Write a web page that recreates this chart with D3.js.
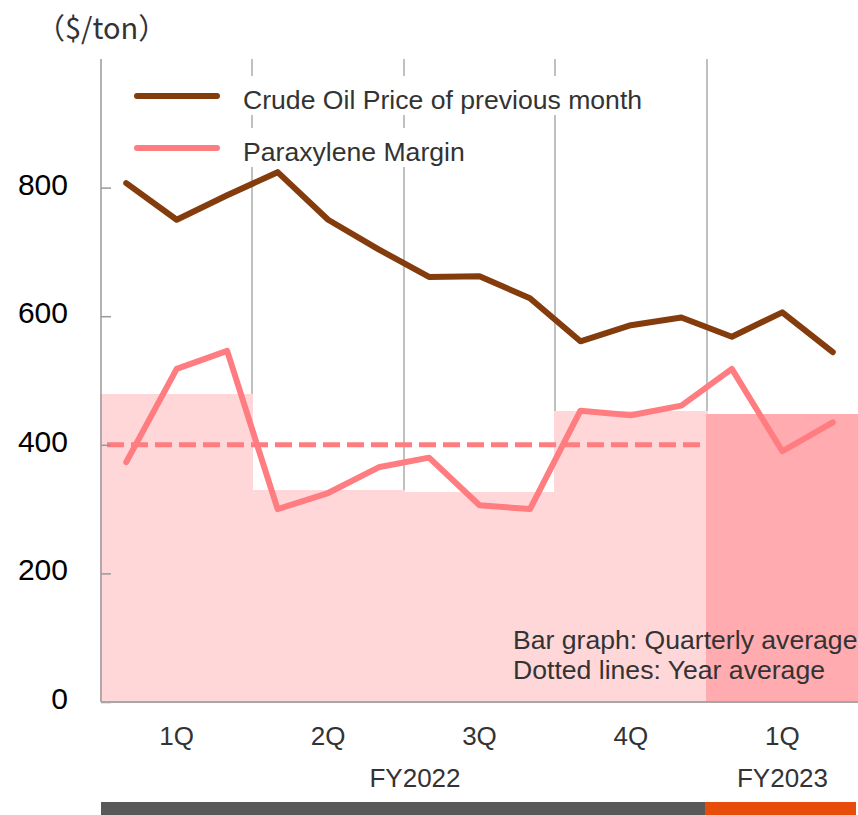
<!DOCTYPE html>
<html>
<head>
<meta charset="utf-8">
<script src="https://cdn.jsdelivr.net/npm/d3@7"></script>
<style>
  body { margin: 0; background: #fff; }
  text { font-family: "Liberation Sans", Arial, sans-serif; }
</style>
</head>
<body>
<svg id="chart" width="858" height="815"></svg>
<script>
// Data
const months = d3.range(15);
const crudeOil = [807, 750, 788, 824, 750, 704, 661, 662, 628, 561, 586, 598, 568, 606, 544];
const pxMargin = [373, 518, 546, 300, 325, 365, 380, 306, 300, 453, 446, 461, 518, 390, 435];
const quarters = ["1Q", "2Q", "3Q", "4Q", "1Q"];
const quarterAvg = [479, 329, 327, 452, 448];
const fiscalYears = ["FY2022", "FY2023"];
const fyQuarters = [[0, 3], [4, 4]];
const yearAvg = [400];
const yTicks = [0, 200, 400, 600, 800];

const svg = d3.select("#chart");

// Scales
const x = d3.scaleBand().domain(months).range([101, 858]);
const y = d3.scaleLinear().domain([0, 1000]).range([702, 59]);
const cx = i => x(i) + x.bandwidth() / 2;
const qLeft = q => Math.round(x(q * 3));
const qRight = q => Math.round(x(q * 3 + 2) + x.bandwidth());

// Unit label
svg.append("text")
    .attr("x", 36)
    .attr("y", 39)
    .attr("font-size", 29)
    .attr("fill", "#333")
    .style("font-family", "'Noto Sans CJK JP', sans-serif")
    .text("（$/ton）");

// Gridlines at quarter boundaries
svg.selectAll(".grid")
    .data([1, 2, 3, 4])
    .enter()
    .append("line")
    .attr("x1", q => qLeft(q))
    .attr("x2", q => qLeft(q))
    .attr("y1", y(1000))
    .attr("y2", y(0))
    .attr("stroke", "#c0c0c0")
    .attr("stroke-width", 2);

// Quarterly average bars
svg.selectAll(".bar")
    .data(quarterAvg)
    .enter()
    .append("rect")
    .attr("x", (d, i) => qLeft(i) - 1)
    .attr("y", d => y(d))
    .attr("width", (d, i) => qRight(i) - qLeft(i) + 2)
    .attr("height", d => y(0) - y(d))
    .attr("shape-rendering", "crispEdges")
    .attr("fill", (d, i) => i < 4 ? "#ffd7d9" : "#ffabaf");

// Year average dashed line
svg.append("line")
    .attr("x1", qLeft(0))
    .attr("x2", qRight(3))
    .attr("y1", y(yearAvg[0]))
    .attr("y2", y(yearAvg[0]))
    .attr("stroke", "#ff7c80")
    .attr("stroke-width", 5)
    .attr("stroke-dasharray", "17,7")
    .attr("stroke-dashoffset", 18);

// Y axis
const yAxis = svg.append("g")
    .attr("transform", "translate(101,0)")
    .call(d3.axisRight(y).tickValues(yTicks).tickSize(10).tickFormat(""));
yAxis.select(".domain").attr("stroke", "#999").attr("stroke-width", 1.5)
    .attr("d", `M0,${y(1000)}V${y(0)}`);
yAxis.selectAll(".tick line").attr("stroke", "#999").attr("stroke-width", 1.5);

svg.selectAll(".ylabel")
    .data(yTicks)
    .enter()
    .append("text")
    .attr("x", 68)
    .attr("y", d => y(d) + 7)
    .attr("text-anchor", "end")
    .attr("font-size", 30)
    .attr("fill", "#000")
    .text(d => d);

// X axis line
svg.append("line")
    .attr("x1", 101).attr("x2", 858)
    .attr("y1", y(0)).attr("y2", y(0))
    .attr("stroke", "#a6a6a6")
    .attr("stroke-width", 2);

// Lines
const line = d3.line().x((d, i) => cx(i)).y(d => y(d));

svg.append("path")
    .datum(crudeOil)
    .attr("d", line)
    .attr("fill", "none")
    .attr("stroke", "#843c0c")
    .attr("stroke-width", 6)
    .attr("stroke-linejoin", "round")
    .attr("stroke-linecap", "round");

svg.append("path")
    .datum(pxMargin)
    .attr("d", line)
    .attr("fill", "none")
    .attr("stroke", "#ff7c80")
    .attr("stroke-width", 6)
    .attr("stroke-linejoin", "round")
    .attr("stroke-linecap", "round");

// Legend
const legend = [
    { name: "Crude Oil Price of previous month", color: "#843c0c", y: 96, w: 525 },
    { name: "Paraxylene Margin", color: "#ff7c80", y: 148, w: 345 }
];
legend.forEach(l => {
    svg.append("rect")
        .attr("x", 125).attr("y", l.y - 20)
        .attr("width", l.w).attr("height", 39)
        .attr("fill", "#fff");
    svg.append("line")
        .attr("x1", 137).attr("x2", 217)
        .attr("y1", l.y).attr("y2", l.y)
        .attr("stroke", l.color)
        .attr("stroke-width", 6)
        .attr("stroke-linecap", "round");
    svg.append("text")
        .attr("x", 243).attr("y", l.y + 13)
        .attr("font-size", 26.6)
        .attr("fill", "#333")
        .text(l.name);
});

// Quarter labels
svg.selectAll(".qlabel")
    .data(quarters)
    .enter()
    .append("text")
    .attr("x", (d, i) => cx(i * 3 + 1))
    .attr("y", 745)
    .attr("text-anchor", "middle")
    .attr("font-size", 26)
    .attr("fill", "#333")
    .text(d => d);

// Fiscal year labels and bottom bars
fiscalYears.forEach((fy, i) => {
    const [a, b] = fyQuarters[i];
    svg.append("text")
        .attr("x", i === 0 ? (qLeft(a) + qRight(b)) / 2 + 11 : (qLeft(a) + qRight(b)) / 2)
        .attr("y", 787)
        .attr("text-anchor", "middle")
        .attr("font-size", 26)
        .attr("fill", "#333")
        .text(fy);
    svg.append("rect")
        .attr("x", qLeft(a) - (i === 1 ? 2 : 0))
        .attr("y", 802)
        .attr("width", qRight(b) - qLeft(a))
        .attr("height", 13)
        .attr("fill", i === 0 ? "#595959" : "#e84c0a");
});

// Note
svg.append("text")
    .attr("x", 513).attr("y", 649)
    .attr("font-size", 26.6).attr("fill", "#333")
    .text("Bar graph: Quarterly average");
svg.append("text")
    .attr("x", 513).attr("y", 679)
    .attr("font-size", 26.6).attr("fill", "#333")
    .text("Dotted lines: Year average");
</script>
</body>
</html>
